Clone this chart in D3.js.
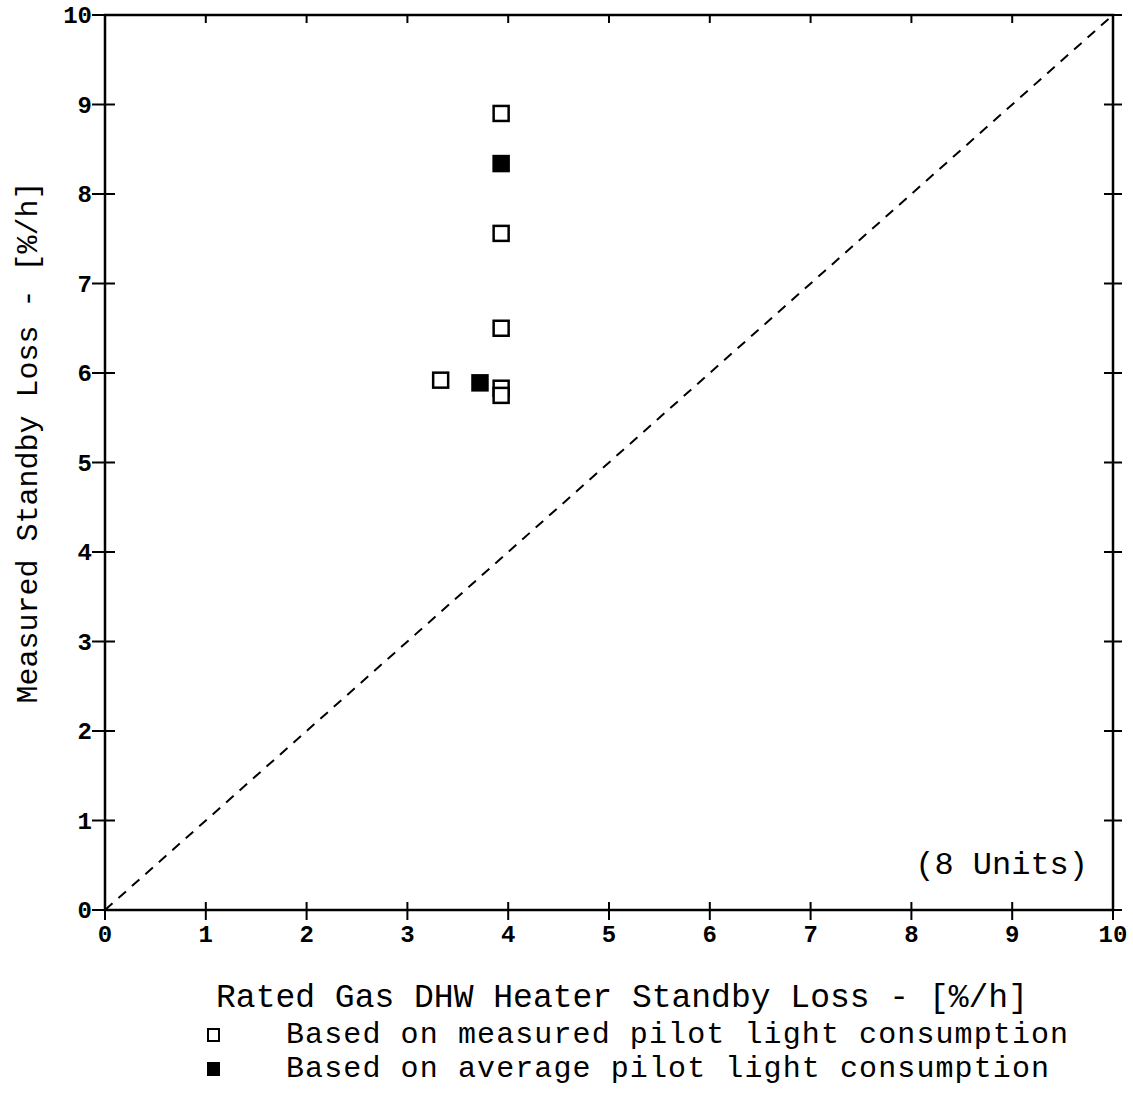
<!DOCTYPE html>
<html>
<head>
<meta charset="utf-8">
<script src="https://cdn.jsdelivr.net/npm/d3@7"></script>
<style>
  body { margin: 0; background: #fff; }
  text { font-family: "Liberation Mono", "Courier New", monospace; fill: #000; }
</style>
</head>
<body>
<div id="chart"></div>
<script>
// Gas DHW heater standby loss: rated vs measured
var measuredX = [3.93, 3.93, 3.93, 3.33, 3.93, 3.93];
var measuredY = [8.90, 7.56, 6.50, 5.92, 5.83, 5.75];
var averageX = [3.93, 3.72];
var averageY = [8.34, 5.89];
var tickVals = [0, 1, 2, 3, 4, 5, 6, 7, 8, 9, 10];
var legendLabels = ["Based on measured pilot light consumption", "Based on average pilot light consumption"];

var svgWidth = 1133, svgHeight = 1111;
var margin = {top: 15, left: 105};
var width = 1008, height = 895;

var x = d3.scaleLinear().domain([0, 10]).range([0, width]);
var y = d3.scaleLinear().domain([0, 10]).range([height, 0]);

var svg = d3.select("#chart").append("svg")
    .attr("width", svgWidth)
    .attr("height", svgHeight);

var g = svg.append("g")
    .attr("transform", "translate(" + margin.left + "," + margin.top + ")");

// frame
g.append("rect")
    .attr("width", width).attr("height", height)
    .attr("fill", "none").attr("stroke", "#000").attr("stroke-width", 2.5);

// tick marks on all four sides
tickVals.forEach(function(t) {
  g.append("line").attr("x1", x(t)).attr("x2", x(t)).attr("y1", height - 8).attr("y2", height + 10)
    .attr("stroke", "#000").attr("stroke-width", 2);
  g.append("line").attr("x1", x(t)).attr("x2", x(t)).attr("y1", 0).attr("y2", 8)
    .attr("stroke", "#000").attr("stroke-width", 2);
  g.append("line").attr("x1", -13).attr("x2", 10).attr("y1", y(t)).attr("y2", y(t))
    .attr("stroke", "#000").attr("stroke-width", 2);
  g.append("line").attr("x1", width - 9).attr("x2", width + 9).attr("y1", y(t)).attr("y2", y(t))
    .attr("stroke", "#000").attr("stroke-width", 2);
});

// tick labels
g.selectAll(".xlab").data(tickVals).enter().append("text")
    .attr("x", function(d) { return x(d); })
    .attr("y", height + 32)
    .attr("text-anchor", "middle")
    .style("font-size", "24px").style("font-weight", "bold")
    .text(function(d) { return d; });

g.selectAll(".ylab").data(tickVals).enter().append("text")
    .attr("x", -13)
    .attr("y", function(d) { return y(d) + 8; })
    .attr("text-anchor", "end")
    .style("font-size", "24px").style("font-weight", "bold")
    .text(function(d) { return d; });

// 1:1 line
g.append("line")
    .attr("x1", x(0)).attr("y1", y(0)).attr("x2", x(10)).attr("y2", y(10))
    .attr("stroke", "#000").attr("stroke-width", 2).attr("stroke-dasharray", "10,8");

// points
var sq = 15;
measuredX.forEach(function(v, i) {
  g.append("rect")
    .attr("x", x(v) - sq / 2).attr("y", y(measuredY[i]) - sq / 2)
    .attr("width", sq).attr("height", sq)
    .attr("fill", "#fff").attr("stroke", "#000").attr("stroke-width", 2.5);
});
averageX.forEach(function(v, i) {
  g.append("rect")
    .attr("x", x(v) - sq / 2).attr("y", y(averageY[i]) - sq / 2)
    .attr("width", sq).attr("height", sq)
    .attr("fill", "#000").attr("stroke", "#000").attr("stroke-width", 2.5);
});

// annotation
g.append("text")
    .attr("x", width - 25).attr("y", height - 36)
    .attr("text-anchor", "end")
    .style("font-size", "32px")
    .text("(8 Units)");

// axis titles
svg.append("text")
    .attr("x", 622).attr("y", 1007)
    .attr("text-anchor", "middle")
    .style("font-size", "33px")
    .text("Rated Gas DHW Heater Standby Loss - [%/h]");

svg.append("text")
    .attr("transform", "translate(37," + (margin.top + height / 2 - 20) + ") rotate(-90)")
    .attr("text-anchor", "middle")
    .style("font-size", "30px")
    .text("Measured Standby Loss - [%/h]");

// legend
legendLabels.forEach(function(lab, i) {
  var ly = 1039 + i * 34;
  svg.append("rect")
    .attr("x", 208).attr("y", ly - 10).attr("width", 11).attr("height", 12)
    .attr("fill", i === 0 ? "#fff" : "#000").attr("stroke", "#000").attr("stroke-width", 2);
  svg.append("text")
    .attr("x", 286).attr("y", ly + 4)
    .style("font-size", "30px").style("letter-spacing", "1.1px")
    .text(lab);
});
</script>
</body>
</html>
